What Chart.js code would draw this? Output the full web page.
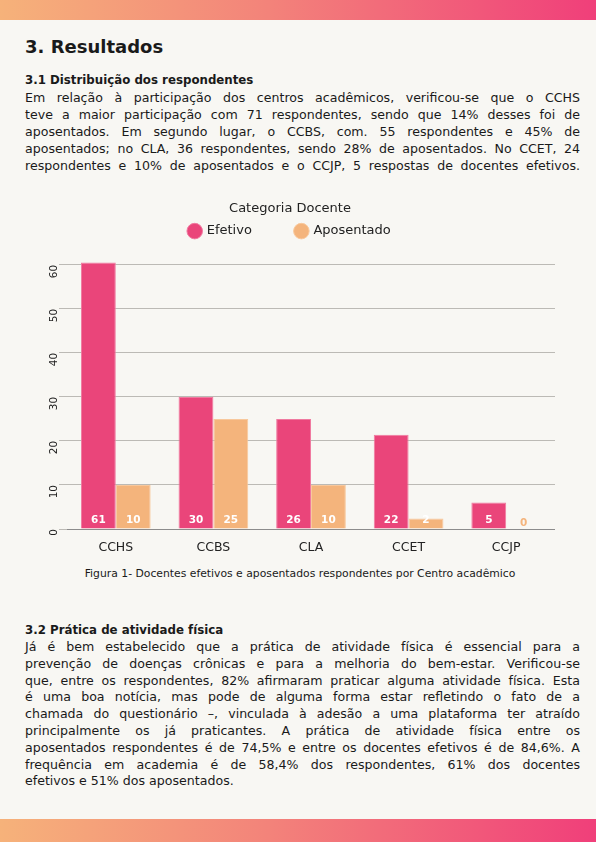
<!DOCTYPE html>
<html lang="pt-BR">
<head>
<meta charset="utf-8">
<script src="https://cdn.jsdelivr.net/npm/chart.js@4.4.1/dist/chart.umd.min.js"></script>
<style>
  html, body { margin: 0; padding: 0; }
  body {
    width: 596px; height: 842px; position: relative; overflow: hidden;
    background: #f8f7f3; color: #1a1a1a;
    font-family: "DejaVu Sans", sans-serif;
  }
  .faixa {
    position: absolute; left: 0; width: 596px;
    background: linear-gradient(to right, #f6b27a, #f3837a 45%, #f03f7a);
  }
  .topo { top: 0; height: 20px; }
  .base { top: 819px; height: 23px; }
  h1 { position: absolute; left: 25px; top: 36px; margin: 0; font-size: 18px; font-weight: bold; }
  h2 { position: absolute; left: 25px; margin: 0; font-size: 11.8px; font-weight: bold; }
  .texto { position: absolute; left: 25px; width: 555px; font-size: 12.6px; line-height: 17px; }
  .texto span { display: block; text-align: justify; text-align-last: justify; white-space: nowrap; }
  .texto span.fim { text-align-last: left; }
  #grafico-box { position: absolute; left: 25px; top: 195px; width: 530px; height: 363px; }
  .legenda { position: absolute; left: 0; width: 600px; top: 567px; text-align: center; font-size: 10.8px; }
</style>
</head>
<body>
<div class="faixa topo"></div>

<h1>3. Resultados</h1>
<h2 style="top:73px">3.1 Distribuição dos respondentes</h2>
<div class="texto" style="top:89px">
  <span>Em relação à participação dos centros acadêmicos, verificou-se que o CCHS</span>
  <span>teve a maior participação com 71 respondentes, sendo que 14% desses foi de</span>
  <span>aposentados. Em segundo lugar, o CCBS, com. 55 respondentes e 45% de</span>
  <span>aposentados; no CLA, 36 respondentes, sendo 28% de aposentados. No CCET, 24</span>
  <span>respondentes e 10% de aposentados e o CCJP, 5 respostas de docentes efetivos.</span>
</div>

<div id="grafico-box"><canvas id="grafico"></canvas></div>
<div class="legenda">Figura 1- Docentes efetivos e aposentados respondentes por Centro acadêmico</div>

<h2 style="top:623px">3.2 Prática de atividade física</h2>
<div class="texto" style="top:639px; line-height:16.8px">
  <span>Já é bem estabelecido que a prática de atividade física é essencial para a</span>
  <span>prevenção de doenças crônicas e para a melhoria do bem-estar. Verificou-se</span>
  <span>que, entre os respondentes, 82% afirmaram praticar alguma atividade física. Esta</span>
  <span>é uma boa notícia, mas pode de alguma forma estar refletindo o fato de a</span>
  <span>chamada do questionário –, vinculada à adesão a uma plataforma ter atraído</span>
  <span>principalmente os já praticantes. A prática de atividade física entre os</span>
  <span>aposentados respondentes é de 74,5% e entre os docentes efetivos é de 84,6%. A</span>
  <span>frequência em academia é de 58,4% dos respondentes, 61% dos docentes</span>
  <span class="fim">efetivos e 51% dos aposentados.</span>
</div>

<div class="faixa base"></div>

<script>
var centros = ['CCHS', 'CCBS', 'CLA', 'CCET', 'CCJP'];
// altura das barras
var efetivo = [60.5, 30, 25, 21.4, 6];
var aposentado = [10, 25, 10, 2.4, 0];
// rótulos impressos na base de cada barra
var rotEfetivo = ['61', '30', '26', '22', '5'];
var rotAposentado = ['10', '25', '10', '2', '0'];
var ticksY = [0, 10, 20, 30, 40, 50, 60];

var corEfetivo = '#ea457a';
var corAposentado = '#f4b47c';

var rotulosBase = {
    id: 'rotulosBase',
    afterDatasetsDraw: function(chart) {
        var ctx = chart.ctx;
        var textos = [rotEfetivo, rotAposentado];
        ctx.save();
        ctx.font = '600 10.5px "DejaVu Sans", sans-serif';
        ctx.textAlign = 'center';
        ctx.textBaseline = 'middle';
        chart.data.datasets.forEach(function(ds, i) {
            var meta = chart.getDatasetMeta(i);
            meta.data.forEach(function(bar, j) {
                var v = ds.data[j];
                ctx.fillStyle = v > 0 ? '#ffffff' : ds.backgroundColor;
                ctx.fillText(textos[i][j], bar.x, bar.base - (v > 0 ? 8 : 6));
            });
        });
        ctx.restore();
    }
};

new Chart(document.getElementById('grafico'), {
    type: 'bar',
    data: {
        labels: centros,
        datasets: [
            { label: 'Efetivo', data: efetivo, backgroundColor: corEfetivo,
              borderColor: '#f07aa0', borderWidth: 1, borderSkipped: 'bottom' },
            { label: 'Aposentado', data: aposentado, backgroundColor: corAposentado,
              borderColor: '#f8c89c', borderWidth: 1, borderSkipped: 'bottom' }
        ]
    },
    options: {
        responsive: true, maintainAspectRatio: false, animation: false,
        categoryPercentage: 0.714, barPercentage: 1.0,
        layout: { padding: { top: 4, right: 0, bottom: 0, left: 0 } },
        plugins: {
            legend: {
                position: 'top',
                title: { display: true, text: 'Categoria Docente', color: '#222',
                         font: { family: 'DejaVu Sans', size: 13 }, padding: { top: 3, bottom: -37 } },
                labels: {
                    usePointStyle: true, pointStyle: 'circle', boxWidth: 11, boxHeight: 11,
                    color: '#222', padding: 44,
                    font: { family: 'DejaVu Sans', size: 13 }
                }
            },
            tooltip: { enabled: false }
        },
        scales: {
            x: {
                grid: { display: false },
                border: { display: true, color: '#8c8c8c', width: 1 },
                ticks: { color: '#222', font: { family: 'DejaVu Sans', size: 12.5 }, padding: 3 }
            },
            y: {
                min: 0, max: 63.9,
                afterBuildTicks: function(axis) {
                    axis.ticks = ticksY.map(function(v) { return { value: v }; });
                },
                afterFit: function(axis) { axis.width = 42; },
                grid: { color: '#bcbab5', lineWidth: 1, drawTicks: true, tickLength: 8, tickColor: '#bcbab5' },
                border: { display: false },
                ticks: { color: '#222', minRotation: 90, maxRotation: 90, padding: 5,
                         font: { family: 'DejaVu Sans', size: 10.5 } }
            }
        }
    },
    plugins: [rotulosBase]
});
</script>
</body>
</html>
